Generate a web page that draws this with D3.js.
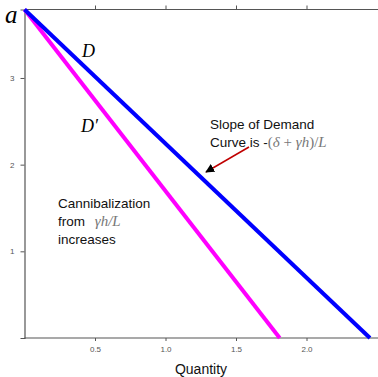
<!DOCTYPE html>
<html>
<head>
<meta charset="utf-8">
<script src="https://cdn.jsdelivr.net/npm/d3@7"></script>
<style>
  body { margin: 0; background: #fff; }
  svg { display: block; }
</style>
</head>
<body>
<div class="chart"></div>
<script>
// Demand curves: quantity at price 0 and intercept a
const intercept = 3.79
const demandQ = [0, 2.45]
const demandP = [intercept, 0]
const cannibQ = [0, 1.81]
const cannibP = [intercept, 0]
const xTicks = [0.5, 1.0, 1.5, 2.0]
const yTicks = [1, 2, 3]

const W = 378, H = 377
const margin = { top: 9.5, right: 0, bottom: 39, left: 24.5 }

const x = d3.scaleLinear().domain([0, 2.5]).range([margin.left, margin.left + 352.5])
const y = d3.scaleLinear().domain([0, intercept]).range([H - margin.bottom, margin.top])

const svg = d3.select('.chart').append('svg')
  .attr('width', W)
  .attr('height', H)

const axisColor = '#555'

// Axes
const gx = svg.append('g')
  .attr('transform', `translate(0, ${y(0)})`)
  .call(d3.axisBottom(x).tickValues(xTicks).tickFormat(d3.format('.1f')).tickSize(3).tickPadding(5))
const gxTop = svg.append('g')
  .attr('transform', `translate(0, ${y(intercept)})`)
  .call(d3.axisTop(x).tickValues(xTicks).tickFormat('').tickSize(4))
const gy = svg.append('g')
  .attr('transform', `translate(${x(0)}, 0)`)
  .call(d3.axisLeft(y).tickValues(yTicks).tickFormat(d3.format('d')).tickSize(4).tickPadding(6))

;[gx, gxTop, gy].forEach(g => {
  g.select('.domain').attr('stroke', axisColor).attr('stroke-width', 1.2)
  g.selectAll('.tick line').attr('stroke', axisColor)
  g.selectAll('.tick text')
    .attr('fill', '#555')
    .style('font-family', 'Liberation Sans, Arial, sans-serif')
    .style('font-size', '8px')
})
gx.select('.domain').attr('d', `M${x(0)},0H${W}`)
gxTop.select('.domain').attr('d', `M${x(0)},0H${W}`)

// Lines
const line = d3.line().x(d => x(d[0])).y(d => y(d[1]))
svg.append('path')
  .datum(d3.zip(cannibQ, cannibP))
  .attr('d', line)
  .attr('fill', 'none')
  .attr('stroke', '#ff00ff')
  .attr('stroke-width', 4)
svg.append('path')
  .datum(d3.zip(demandQ, demandP))
  .attr('d', line)
  .attr('fill', 'none')
  .attr('stroke', '#0000ff')
  .attr('stroke-width', 4)

// Labels
const serif = 'Liberation Serif, DejaVu Serif, serif'
const sans = 'Liberation Sans, Arial, sans-serif'

svg.append('text').attr('x', 5).attr('y', 23)
  .style('font-family', serif).style('font-style', 'italic').style('font-size', '25px')
  .text('a')
svg.append('text').attr('x', 82).attr('y', 57)
  .style('font-family', serif).style('font-style', 'italic').style('font-size', '18px')
  .text('D')
svg.append('text').attr('x', 81).attr('y', 132)
  .style('font-family', serif).style('font-style', 'italic').style('font-size', '18px')
  .text('D′')

const sl = svg.append('g').style('font-family', sans).style('font-size', '13.5px').attr('fill', '#111')
sl.append('text').attr('x', 210).attr('y', 129).text('Slope of Demand')
const s2 = sl.append('text').attr('x', 210).attr('y', 147)
s2.append('tspan').text('Curve is -')
s2.append('tspan').attr('fill', '#777').style('font-family', serif).style('font-size', '15px')
  .html('(<tspan font-style="italic">δ</tspan> + <tspan font-style="italic">γh</tspan>)/<tspan font-style="italic">L</tspan>')

const cl = svg.append('g').style('font-family', sans).style('font-size', '13.5px').attr('fill', '#111')
cl.append('text').attr('x', 58).attr('y', 208).text('Cannibalization')
const c2 = cl.append('text').attr('x', 58).attr('y', 226)
c2.append('tspan').text('from ')
c2.append('tspan').attr('dx', 6).attr('fill', '#777').style('font-family', serif)
  .style('font-style', 'italic').style('font-size', '15px').text('γh/L')
cl.append('text').attr('x', 58).attr('y', 244).text('increases')

// Arrow
svg.append('defs').append('marker')
  .attr('id', 'head')
  .attr('viewBox', '0 0 10 10')
  .attr('refX', 9).attr('refY', 5)
  .attr('markerWidth', 9).attr('markerHeight', 9)
  .attr('markerUnits', 'userSpaceOnUse')
  .attr('orient', 'auto')
  .append('path').attr('d', 'M0,0L10,5L0,10Z').attr('fill', '#000')
svg.append('line')
  .attr('x1', 249).attr('y1', 147).attr('x2', 206).attr('y2', 172)
  .attr('stroke', '#c00000').attr('stroke-width', 1.5)
  .attr('marker-end', 'url(#head)')

svg.append('text').attr('x', 201).attr('y', 374).attr('text-anchor', 'middle')
  .style('font-family', sans).style('font-size', '14px').attr('fill', '#111')
  .text('Quantity')
</script>
</body>
</html>
